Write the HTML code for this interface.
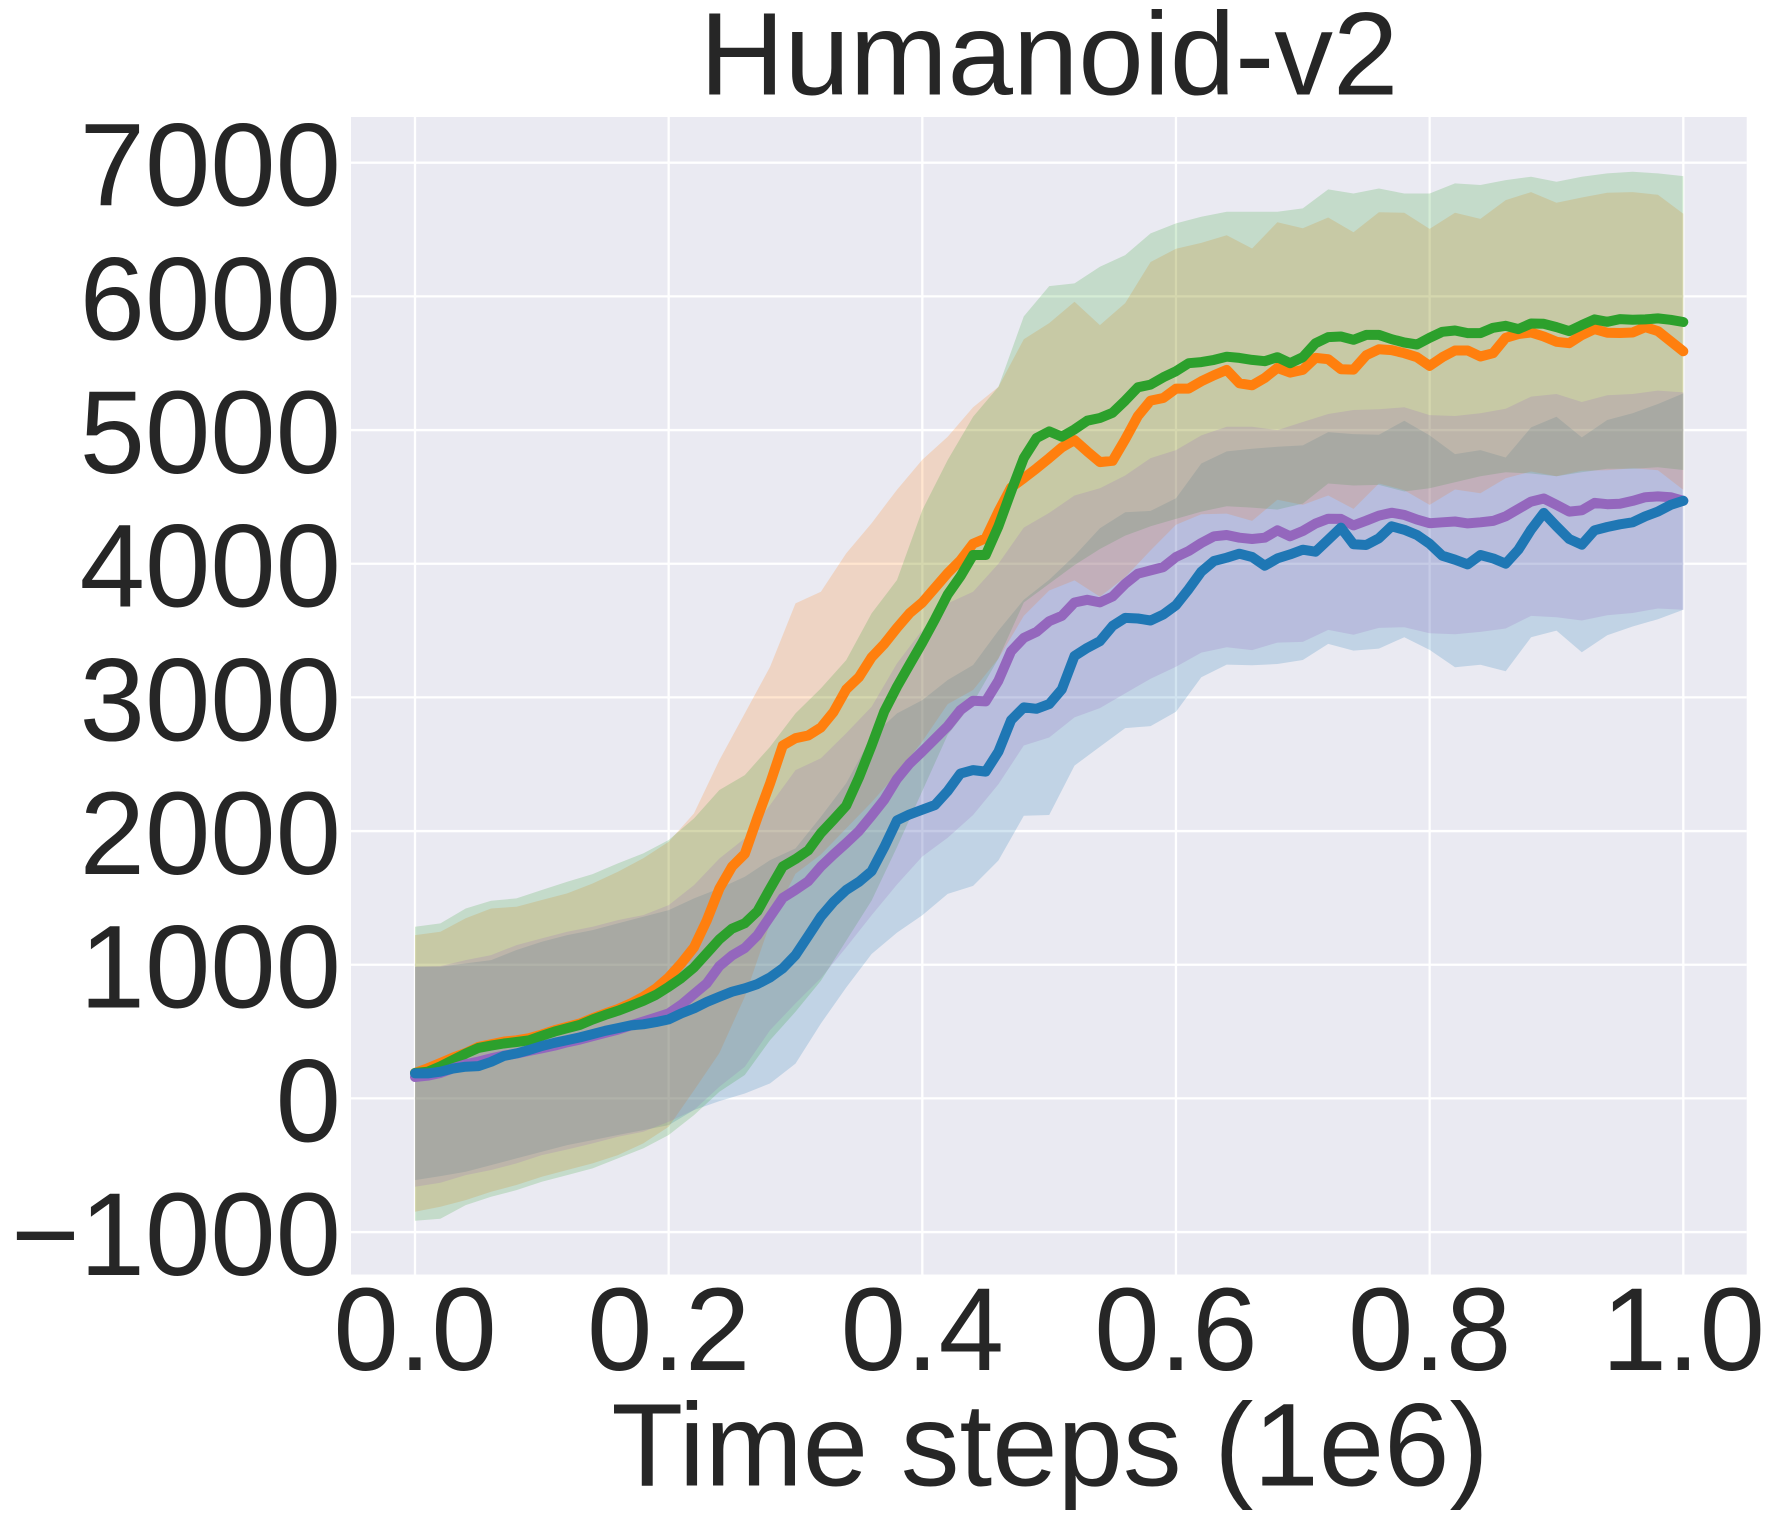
<!DOCTYPE html>
<html lang="en">
<head>
<meta charset="utf-8">
<title>Humanoid-v2</title>
<style>
  html, body { margin: 0; padding: 0; background: #ffffff; }
  svg { display: block; }
  text { font-family: "Liberation Sans", Arial, sans-serif; fill: #262626; font-size: 117.5px; }
</style>
</head>
<body>
<svg id="chart" xmlns="http://www.w3.org/2000/svg" width="1774" height="1519" viewBox="0 0 1774 1519">
  <rect x="0" y="0" width="1774" height="1519" fill="#ffffff"></rect>
  <rect x="351" y="117" width="1395.7" height="1157.5" fill="#eaeaf2"></rect>
  <g id="grid"></g>
  <g id="bands"></g>
  <g id="lines"></g>
  <g id="xticks"></g>
  <g id="yticks"></g>
  <text x="1049" y="94.5" text-anchor="middle">Humanoid-v2</text>
  <text x="1050" y="1485.5" text-anchor="middle">Time steps (1e6)</text>
</svg>
<script>
const xTickValues = [0, 0.2, 0.4, 0.6, 0.8, 1.0];
const xTickLabels = ["0.0", "0.2", "0.4", "0.6", "0.8", "1.0"];
const yTickValues = [-1000, 0, 1000, 2000, 3000, 4000, 5000, 6000, 7000];
const yTickLabels = ["\u22121000", "0", "1000", "2000", "3000", "4000", "5000", "6000", "7000"];

const blueMean = [
187,187,200,224,237,242,274,317,337,362,
392,416,436,456,481,506,526,546,554,571,
591,636,673,721,761,798,823,855,905,973,
1072,1215,1360,1470,1559,1620,1700,1880,2080,2125,
2160,2195,2300,2430,2456,2445,2594,2830,2925,2915,
2950,3060,3310,3370,3420,3535,3595,3590,3575,3620,
3690,3810,3940,4020,4045,4075,4050,3985,4040,4070,
4105,4090,4180,4270,4145,4140,4190,4280,4254,4215,
4150,4060,4030,3995,4065,4040,4000,4105,4255,4380,
4280,4185,4142,4250,4275,4295,4310,4355,4390,4440,
4471];
const purpleMean = [
160,170,190,225,255,275,300,320,335,355,
375,395,420,440,465,490,515,545,575,605,
636,700,780,860,990,1070,1125,1220,1360,1500,
1560,1625,1735,1825,1910,2000,2115,2235,2390,2505,
2595,2690,2785,2905,2975,2970,3125,3345,3445,3490,
3570,3610,3710,3730,3711,3755,3850,3925,3950,3975,
4050,4095,4155,4205,4215,4195,4185,4195,4250,4205,
4245,4300,4337,4335,4287,4322,4360,4382,4365,4330,
4303,4310,4316,4302,4310,4320,4355,4410,4465,4488,
4440,4390,4400,4455,4445,4448,4470,4498,4504,4498,
4471];
const greenMean = [
190,200,240,287,335,378,395,411,422,435,
468,500,525,550,590,625,655,692,730,775,
835,900,980,1085,1190,1270,1310,1400,1570,1735,
1790,1855,1985,2085,2190,2400,2640,2895,3080,3245,
3410,3585,3770,3905,4065,4065,4280,4540,4790,4940,
4990,4950,5005,5070,5090,5130,5220,5320,5340,5395,
5440,5500,5508,5525,5549,5540,5525,5515,5545,5500,
5545,5650,5695,5700,5675,5712,5712,5680,5655,5640,
5690,5735,5745,5725,5725,5765,5780,5755,5797,5795,
5770,5740,5785,5828,5810,5830,5825,5828,5835,5825,
5808];
const orangeMean = [
190,225,265,305,340,385,405,425,435,450,
478,510,535,560,600,635,668,710,760,823,
905,1010,1130,1330,1570,1735,1830,2100,2357,2640,
2695,2715,2775,2890,3060,3150,3300,3400,3520,3630,
3710,3820,3930,4025,4150,4190,4390,4570,4640,4713,
4790,4870,4925,4840,4760,4770,4930,5105,5220,5240,
5310,5310,5365,5410,5450,5350,5335,5390,5465,5430,
5450,5540,5530,5455,5452,5559,5605,5598,5575,5545,
5480,5545,5595,5595,5550,5575,5690,5718,5730,5700,
5660,5650,5710,5755,5728,5726,5730,5770,5740,5665,
5589];

const greenUpper = [
1284,1309,1421,1479,1496,1559,1621,1678,1758,1833,
1933,2095,2307,2419,2631,2880,3067,3279,3628,3878,
4401,4776,5100,5323,5850,6077,6097,6222,6309,6471,
6546,6596,6633,6633,6633,6658,6800,6770,6807,6770,
6770,6845,6833,6870,6895,6858,6895,6920,6932,6920,
6900];
const greenLower = [
-915,-900,-798,-736,-686,-623,-574,-524,-449,-374,
-274,-125,50,175,436,648,880,1180,1480,1880,
2300,2720,2960,3290,3710,3850,3990,4110,4210,4280,
4335,4390,4430,4420,4405,4450,4600,4585,4590,4540,
4565,4610,4655,4685,4675,4655,4685,4710,4710,4722,
4701];
const orangeUpper = [
1222,1247,1347,1421,1434,1484,1534,1608,1696,1796,
1920,2132,2531,2880,3229,3703,3790,4077,4303,4554,
4778,4950,5170,5323,5680,5800,5960,5785,5950,6257,
6357,6400,6458,6358,6555,6510,6590,6480,6630,6625,
6505,6625,6580,6720,6780,6700,6740,6775,6780,6760,
6618];
const orangeLower = [
-848,-810,-761,-698,-648,-586,-536,-486,-424,-337,
-212,60,340,760,1310,1680,1825,2020,2215,2430,
2670,2950,3055,3290,3610,3800,3875,3753,3900,4100,
4292,4370,4375,4320,4479,4440,4510,4410,4600,4550,
4440,4555,4527,4640,4690,4655,4695,4700,4714,4700,
4552];
const purpleUpper = [
985,990,1035,1072,1147,1197,1247,1284,1334,1371,
1446,1596,1795,1945,2195,2456,2544,2731,2930,3254,
3504,3703,3790,4000,4270,4380,4510,4565,4660,4790,
4850,4960,5025,5025,5000,5060,5120,5150,5155,5170,
5112,5105,5125,5160,5250,5270,5210,5260,5270,5295,
5282];
const purpleLower = [
-661,-631,-574,-536,-486,-424,-382,-337,-287,-249,
-175,-87,87,237,511,711,900,1130,1370,1600,
1810,1950,2120,2350,2640,2700,2850,2920,3030,3140,
3229,3335,3375,3354,3410,3415,3505,3469,3520,3525,
3480,3472,3490,3515,3610,3600,3575,3615,3631,3665,
3656];
const blueUpper = [
985,985,1010,1035,1110,1172,1222,1259,1309,1359,
1409,1496,1571,1658,1783,1870,2107,2357,2706,2880,
2980,3130,3242,3500,3730,3880,4060,4265,4385,4395,
4490,4750,4840,4860,4875,4885,4985,4970,4965,5070,
4960,4820,4850,4795,5020,5100,4945,5075,5125,5195,
5274];
const blueLower = [
-611,-581,-549,-499,-449,-399,-349,-312,-274,-237,
-200,-87,-20,37,112,260,560,830,1080,1240,
1370,1530,1590,1780,2115,2120,2490,2631,2770,2785,
2893,3150,3245,3240,3250,3280,3400,3350,3365,3450,
3355,3225,3244,3195,3450,3500,3337,3465,3530,3585,
3656];

const SVG_NS = "http://www.w3.org/2000/svg";
const xScale = function (t) { return 415 + 1268.3 * t; };
const yScale = function (v) { return 1098.4 - 0.13367 * v; };
const timeOf = function (i, n) { return i / (n - 1); };

const gridGroup = document.getElementById("grid");
const bandGroup = document.getElementById("bands");
const lineGroup = document.getElementById("lines");
const xTickGroup = document.getElementById("xticks");
const yTickGroup = document.getElementById("yticks");

xTickValues.forEach(function (val, i) {
  const ln = document.createElementNS(SVG_NS, "line");
  
  
  ln.setAttribute("x1", xScale(val));
  ln.setAttribute("x2", xScale(val));
  ln.setAttribute("y1", 117);
  ln.setAttribute("y2", 1274.5);
  ln.setAttribute("stroke", "#ffffff");
  ln.setAttribute("stroke-width", 2.3);
  gridGroup.appendChild(ln);

  const tx = document.createElementNS(SVG_NS, "text");
  
  
  tx.setAttribute("x", xScale(val));
  tx.setAttribute("y", 1370);
  tx.setAttribute("text-anchor", "middle");
  tx.textContent = xTickLabels[i];
  xTickGroup.appendChild(tx);
});

yTickValues.forEach(function (val, i) {
  const ln = document.createElementNS(SVG_NS, "line");
  
  
  ln.setAttribute("x1", 351);
  ln.setAttribute("x2", 1746.7);
  ln.setAttribute("y1", yScale(val));
  ln.setAttribute("y2", yScale(val));
  ln.setAttribute("stroke", "#ffffff");
  ln.setAttribute("stroke-width", 2.3);
  gridGroup.appendChild(ln);

  const tx = document.createElementNS(SVG_NS, "text");
  
  
  tx.setAttribute("x", 341);
  tx.setAttribute("y", yScale(val) + 43);
  tx.setAttribute("text-anchor", "end");
  tx.textContent = yTickLabels[i];
  yTickGroup.appendChild(tx);
});

function bandPath(upper, lower) {
  const parts = [];
  upper.forEach(function (v, i) {
    parts.push((i === 0 ? "M" : "L") + xScale(timeOf(i, upper.length)).toFixed(1) + " " + yScale(v).toFixed(1));
  });
  for (let i = lower.length - 1; i >= 0; i--) {
    parts.push("L" + xScale(timeOf(i, lower.length)).toFixed(1) + " " + yScale(lower[i]).toFixed(1));
  }
  return parts.join("") + "Z";
}

function linePoints(values) {
  return values.map(function (v, i) {
    return xScale(timeOf(i, values.length)).toFixed(1) + "," + yScale(v).toFixed(1);
  }).join(" ");
}

const b4 = document.createElementNS(SVG_NS, "path");


b4.setAttribute("d", bandPath(blueUpper, blueLower));
b4.setAttribute("fill", "#1f77b4");
b4.setAttribute("fill-opacity", 0.2);
bandGroup.appendChild(b4);

const b1 = document.createElementNS(SVG_NS, "path");


b1.setAttribute("d", bandPath(orangeUpper, orangeLower));
b1.setAttribute("fill", "#ff7f0e");
b1.setAttribute("fill-opacity", 0.2);
bandGroup.appendChild(b1);

const b2 = document.createElementNS(SVG_NS, "path");


b2.setAttribute("d", bandPath(greenUpper, greenLower));
b2.setAttribute("fill", "#2ca02c");
b2.setAttribute("fill-opacity", 0.2);
bandGroup.appendChild(b2);

const b3 = document.createElementNS(SVG_NS, "path");


b3.setAttribute("d", bandPath(purpleUpper, purpleLower));
b3.setAttribute("fill", "#9467bd");
b3.setAttribute("fill-opacity", 0.2);
bandGroup.appendChild(b3);

function styleLine(el, values, colour) {
  el.setAttribute("points", linePoints(values));
  el.setAttribute("fill", "none");
  el.setAttribute("stroke", colour);
  el.setAttribute("stroke-width", 10);
  el.setAttribute("stroke-linejoin", "round");
  el.setAttribute("stroke-linecap", "round");
  lineGroup.appendChild(el);
}

const l1 = document.createElementNS(SVG_NS, "polyline");


styleLine(l1, orangeMean, "#ff7f0e");

const l2 = document.createElementNS(SVG_NS, "polyline");


styleLine(l2, greenMean, "#2ca02c");

const l3 = document.createElementNS(SVG_NS, "polyline");


styleLine(l3, purpleMean, "#9467bd");

const l4 = document.createElementNS(SVG_NS, "polyline");


styleLine(l4, blueMean, "#1f77b4");
</script>
</body>
</html>
